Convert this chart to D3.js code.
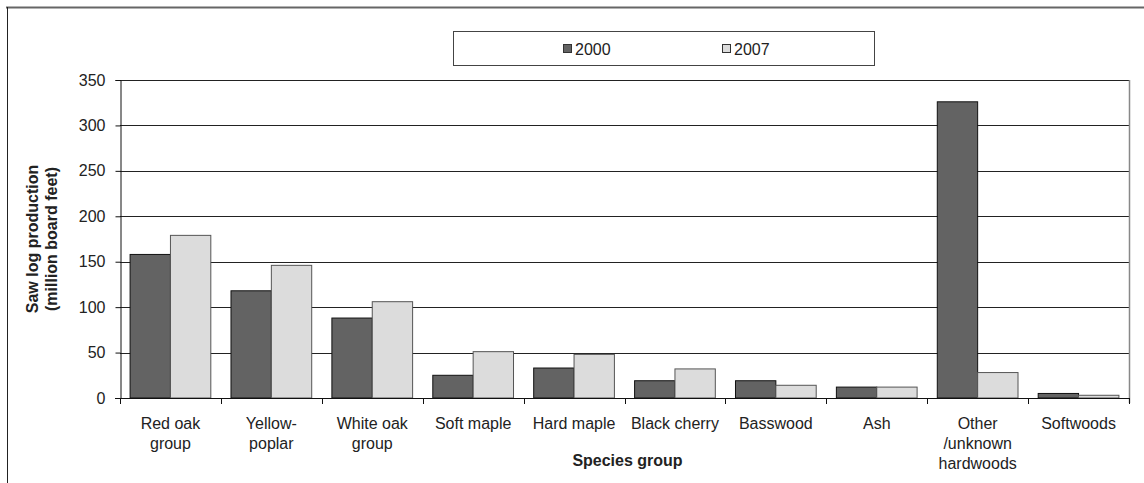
<!DOCTYPE html>
<html><head><meta charset="utf-8">
<script src="https://cdn.jsdelivr.net/npm/d3@7"></script>
<style>body{margin:0;background:#fff}svg{display:block;font-family:"Liberation Sans",Arial,sans-serif}</style>
</head><body>
<script>
const categories = [["Red oak","group"],["Yellow-","poplar"],["White oak","group"],["Soft maple"],["Hard maple"],["Black cherry"],["Basswood"],["Ash"],["Other","/unknown","hardwoods"],["Softwoods"]];
const seriesNames = ["2000","2007"];
const values2000 = [158,118,88,25,33,19,19,12,326,5];
const values2007 = [179,146,106,51,48,32,14,12,28,3];
const yTicks = [0,50,100,150,200,250,300,350];
const seriesColors = ["#636363","#dcdcdc"];

const W=1144,H=483;
const svg=d3.select("body").append("svg").attr("width",W).attr("height",H);
const L=120,R=1129,T=80,B=398;
const catKeys=categories.map(c=>c.join(" "));
const x0=d3.scaleBand().domain(catKeys).range([L,R]).padding(0);
const x1=d3.scaleBand().domain(seriesNames).range([0,x0.bandwidth()]).paddingInner(0).paddingOuter(0.25);
const y=d3.scaleLinear().domain([0,350]).range([B,T]);

// outer frame
svg.append("line").attr("x1",6).attr("x2",W).attr("y1",7.5).attr("y2",7.5).attr("stroke","#666").attr("stroke-width",2);
svg.append("line").attr("x1",7.5).attr("x2",7.5).attr("y1",7).attr("y2",H).attr("stroke","#222").attr("stroke-width",1);

// gridlines
svg.append("g").selectAll("line").data(yTicks.filter(d=>d>0)).join("line")
  .attr("x1",L).attr("x2",R).attr("y1",d=>Math.round(y(d))+0.5).attr("y2",d=>Math.round(y(d))+0.5)
  .attr("stroke","#222").attr("stroke-width",1);
// right border
svg.append("line").attr("x1",R+0.5).attr("x2",R+0.5).attr("y1",T).attr("y2",B+5).attr("stroke","#888").attr("stroke-width",1.5);

// bars
const data=catKeys.map((k,i)=>({k,vals:[values2000[i],values2007[i]]}));
const g=svg.append("g").selectAll("g").data(data).join("g").attr("transform",d=>`translate(${x0(d.k)},0)`);
g.selectAll("rect").data(d=>d.vals.map((v,j)=>({s:seriesNames[j],v,j}))).join("rect")
  .attr("x",d=>x1(d.s)).attr("width",x1.bandwidth())
  .attr("y",d=>y(d.v)).attr("height",d=>B-y(d.v))
  .attr("fill",d=>seriesColors[d.j]).attr("stroke",d=>d.j?"#555":"#111").attr("stroke-width",1);

// y axis
const ya=svg.append("g").attr("transform",`translate(${L+0.5},0)`)
  .call(d3.axisLeft(y).tickValues(yTicks).tickSize(5).tickPadding(10));
ya.select(".domain").attr("stroke","#111");
ya.selectAll(".tick line").attr("stroke","#111");
ya.selectAll("text").attr("font-size",16).attr("fill","#222").attr("font-family","Liberation Sans, Arial, sans-serif");

// x axis line + ticks at band edges
svg.append("line").attr("x1",L-5).attr("x2",R).attr("y1",B+0.5).attr("y2",B+0.5).attr("stroke","#111");
const edges=catKeys.map(k=>x0(k)).concat([x0(catKeys[catKeys.length-1])+x0.bandwidth()]);
svg.append("g").selectAll("line").data(edges).join("line")
  .attr("x1",d=>Math.round(d)+0.5).attr("x2",d=>Math.round(d)+0.5).attr("y1",B).attr("y2",B+6).attr("stroke","#111");

// category labels
const lab=svg.append("g").selectAll("text").data(categories).join("text")
  .attr("x",(d,i)=>x0(catKeys[i])+x0.bandwidth()/2).attr("y",429)
  .attr("text-anchor","middle").attr("font-size",16).attr("fill","#222");
lab.selectAll("tspan").data(d=>d).join("tspan")
  .attr("x",function(){return this.parentNode.getAttribute("x");})
  .attr("dy",(d,i)=>i?20:0).text(d=>d);

// axis titles
svg.append("text").attr("x",(L+R)/2+3).attr("y",466).attr("text-anchor","middle")
  .attr("font-size",16).attr("font-weight","bold").attr("fill","#222").text("Species group");
const yt=svg.append("text").attr("transform",`translate(38,${(T+B)/2}) rotate(-90)`).attr("text-anchor","middle")
  .attr("font-size",16).attr("font-weight","bold").attr("fill","#222");
yt.append("tspan").attr("x",0).attr("dy",0).text("Saw log production");
yt.append("tspan").attr("x",0).attr("dy",19).text("(million board feet)");

// legend
svg.append("rect").attr("x",453.5).attr("y",31.5).attr("width",421).attr("height",34).attr("fill","#fff").attr("stroke","#444");
const lg=svg.append("g").selectAll("g").data(seriesNames).join("g")
  .attr("transform",(d,i)=>`translate(${i?722:563},0)`);
lg.append("rect").attr("x",0.5).attr("y",44.5).attr("width",8).attr("height",8)
  .attr("fill",(d,i)=>seriesColors[i]).attr("stroke","#333");
lg.append("text").attr("x",12).attr("y",54.5).attr("font-size",16).attr("fill","#222").text(d=>d);
</script>
</body></html>
